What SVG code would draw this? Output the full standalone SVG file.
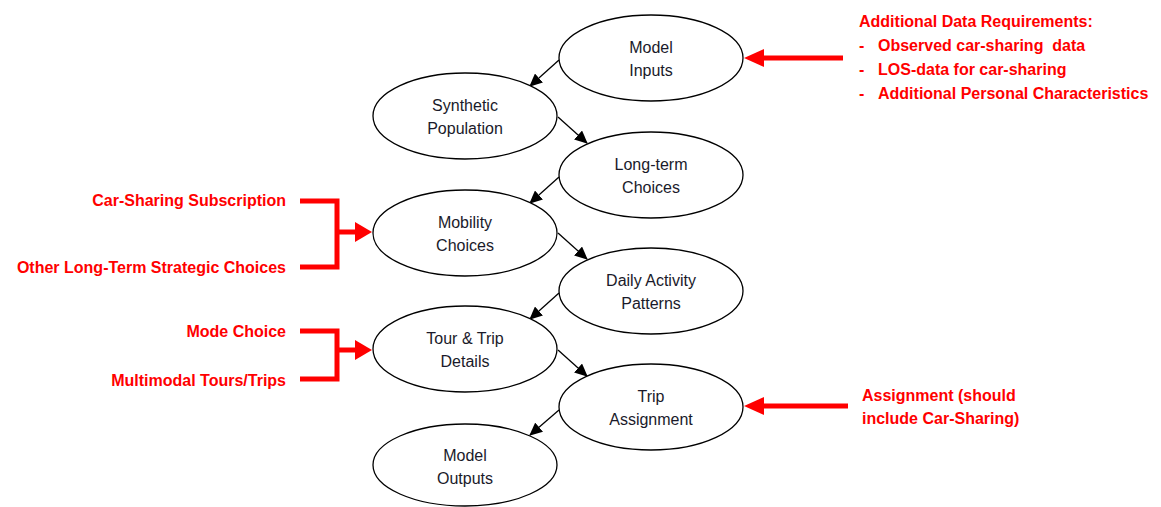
<svg xmlns="http://www.w3.org/2000/svg" width="1161" height="507" viewBox="0 0 1161 507">
<defs>
<style>
.node ellipse{fill:#fff;stroke:#000;stroke-width:1.3}
.node text{font-family:"Liberation Sans",Arial,sans-serif;font-size:16px;fill:#1a1a2a;text-anchor:middle}
.conn line{stroke:#000;stroke-width:1.3}
.red{font-family:"Liberation Sans",Arial,sans-serif;font-size:16px;font-weight:bold;fill:#ff0000}
.rl{stroke:#ff0000;stroke-width:5;fill:none}
</style>
<marker id="ah" markerWidth="13" markerHeight="12" refX="12" refY="6" orient="auto" markerUnits="userSpaceOnUse">
<path d="M0,0 L13,6 L0,12 Z" fill="#000"/>
</marker>
</defs>
<g id="connectors" class="conn">
<line x1="559" y1="60" x2="530" y2="86" marker-end="url(#ah)"/>
<line x1="558" y1="117" x2="587" y2="143" marker-end="url(#ah)"/>
<line x1="559" y1="177" x2="530" y2="203" marker-end="url(#ah)"/>
<line x1="558" y1="233" x2="587" y2="259" marker-end="url(#ah)"/>
<line x1="559" y1="293" x2="530" y2="319" marker-end="url(#ah)"/>
<line x1="558" y1="350" x2="587" y2="376" marker-end="url(#ah)"/>
<line x1="559" y1="410" x2="530" y2="435" marker-end="url(#ah)"/>
</g>
<g id="n-inputs" class="node"><ellipse cx="651" cy="58" rx="92" ry="43"/><text x="651" y="53">Model</text><text x="651" y="76">Inputs</text></g>
<g id="n-synth" class="node"><ellipse cx="465" cy="116" rx="92" ry="43"/><text x="465" y="111">Synthetic</text><text x="465" y="134">Population</text></g>
<g id="n-long" class="node"><ellipse cx="651" cy="175" rx="92" ry="43"/><text x="651" y="170">Long-term</text><text x="651" y="193">Choices</text></g>
<g id="n-mob" class="node"><ellipse cx="465" cy="233" rx="92" ry="43"/><text x="465" y="228">Mobility</text><text x="465" y="251">Choices</text></g>
<g id="n-daily" class="node"><ellipse cx="651" cy="291" rx="92" ry="43"/><text x="651" y="286">Daily Activity</text><text x="651" y="309">Patterns</text></g>
<g id="n-tour" class="node"><ellipse cx="465" cy="349" rx="92" ry="43"/><text x="465" y="344">Tour &amp; Trip</text><text x="465" y="367">Details</text></g>
<g id="n-assign" class="node"><ellipse cx="651" cy="407" rx="92" ry="43"/><text x="651" y="402">Trip</text><text x="651" y="425">Assignment</text></g>
<g id="n-outputs" class="node"><ellipse cx="465" cy="465" rx="92" ry="41"/><text x="465" y="461">Model</text><text x="465" y="484">Outputs</text></g>
<g id="red-inputs">
<line class="rl" x1="843" y1="58" x2="760" y2="58"/>
<path d="M744,58 L764,49 L764,67 Z" fill="#ff0000"/>
<text class="red" x="859" y="27">Additional Data Requirements:</text>
<text class="red" x="859" y="51">-</text><text class="red" x="878" y="51" xml:space="preserve">Observed car-sharing  data</text>
<text class="red" x="859" y="75">-</text><text class="red" x="878" y="75">LOS-data for car-sharing</text>
<text class="red" x="859" y="99">-</text><text class="red" x="878" y="99">Additional Personal Characteristics</text>
</g>
<g id="red-mobility">
<path class="rl" d="M300,201 H337 V267 H300"/>
<line class="rl" x1="337" y1="232" x2="357" y2="232"/>
<path d="M372,232 L355,222 L355,242 Z" fill="#ff0000"/>
<text class="red" x="286" y="206" text-anchor="end">Car-Sharing Subscription</text>
<text class="red" x="286" y="273" text-anchor="end">Other Long-Term Strategic Choices</text>
</g>
<g id="red-tour">
<path class="rl" d="M300,331 H337 V379 H300"/>
<line class="rl" x1="337" y1="350" x2="357" y2="350"/>
<path d="M372,350 L355,340 L355,360 Z" fill="#ff0000"/>
<text class="red" x="286" y="337" text-anchor="end">Mode Choice</text>
<text class="red" x="286" y="386" text-anchor="end">Multimodal Tours/Trips</text>
</g>
<g id="red-assign">
<line class="rl" x1="848" y1="406" x2="760" y2="406"/>
<path d="M744,406 L764,397 L764,415 Z" fill="#ff0000"/>
<text class="red" x="862" y="401">Assignment (should</text>
<text class="red" x="862" y="424">include Car-Sharing)</text>
</g>
</svg>
